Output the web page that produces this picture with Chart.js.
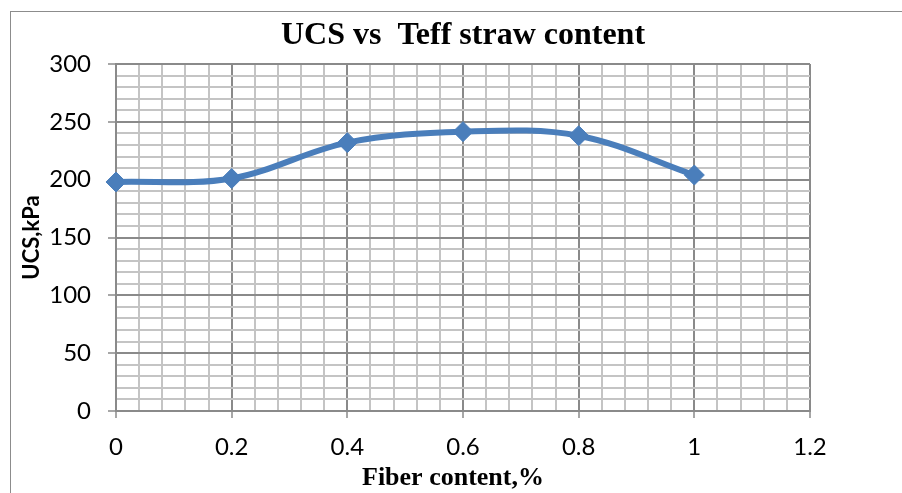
<!DOCTYPE html>
<html><head><meta charset="utf-8">
<script src="https://cdn.jsdelivr.net/npm/chart.js@4.4.1/dist/chart.umd.min.js"></script>
<style>
html,body{margin:0;padding:0;background:#fff;overflow:hidden;}
#wrap{position:relative;width:902px;height:493px;overflow:hidden;}
#frame{position:absolute;left:10px;top:11px;width:900px;height:490px;border:1px solid #8c8c8c;box-sizing:border-box;}
canvas{position:absolute;left:0;top:0;}
</style></head><body>
<div id="wrap"><div id="frame"></div><canvas id="c" width="902" height="493"></canvas></div>
<script>
const chartTitle = 'UCS vs  Teff straw content';
const xAxisTitle = 'Fiber content,%';
const yAxisTitle = 'UCS,kPa';
const fiberContent = [0, 0.2, 0.4, 0.6, 0.8, 1.0];
const ucsValues = [198, 201, 232, 241.5, 238, 204];
const xTickLabels = [0, 0.2, 0.4, 0.6, 0.8, 1, 1.2];
const yTickLabels = [0, 50, 100, 150, 200, 250, 300];
const minorDivisions = 5;

function buildTicks(majors) {
  const out = [];
  for (let i = 0; i < majors.length; i++) {
    out.push({ value: majors[i], isMajor: true });
    if (i < majors.length - 1) {
      const step = (majors[i + 1] - majors[i]) / minorDivisions;
      for (let k = 1; k < minorDivisions; k++) out.push({ value: majors[i] + step * k, isMajor: false });
    }
  }
  return out;
}

const majorColor = '#8a8a8a';
const minorColor = '#c4c4c4';
const gridColor = ctx => (ctx.tick && ctx.tick.isMajor) ? majorColor : minorColor;
const tickColor = ctx => (ctx.tick && ctx.tick.isMajor) ? majorColor : 'rgba(0,0,0,0)';

// x-axis title drawn slightly left of plot centre, as in the original
const xTitlePlugin = {
  id: 'xTitle',
  afterDraw(chart) {
    const { ctx, chartArea } = chart;
    ctx.save();
    ctx.font = 'bold 26px "Liberation Serif"';
    ctx.fillStyle = '#000';
    ctx.textAlign = 'center';
    ctx.textBaseline = 'middle';
    ctx.fillText(xAxisTitle, (chartArea.left + chartArea.right) / 2 - 10, 478.5);
    ctx.restore();
  }
};

Chart.defaults.font.family = 'Lato';
Chart.defaults.color = '#000';

new Chart(document.getElementById('c'), {
  type: 'line',
  data: {
    datasets: [{
      data: fiberContent.map((x, i) => ({ x: x, y: ucsValues[i] })),
      borderColor: '#4a7ebb',
      backgroundColor: '#4a7ebb',
      borderWidth: 6,
      tension: 0.35,
      pointStyle: 'rectRot',
      pointRadius: 10,
      pointBorderWidth: 1,
      pointBorderColor: '#4a7ebb',
      pointBackgroundColor: '#4a7ebb',
      clip: false
    }]
  },
  plugins: [xTitlePlugin],
  options: {
    responsive: false,
    animation: false,
    devicePixelRatio: 1,
    layout: { padding: { left: 0, right: 92, top: 0, bottom: 0 } },
    plugins: {
      legend: { display: false },
      tooltip: { enabled: false },
      title: {
        display: true,
        text: chartTitle,
        fullSize: false,
        color: '#000',
        font: { family: 'Liberation Serif', weight: 'bold', size: 32 },
        padding: { top: 16.8, bottom: 8.8 }
      }
    },
    scales: {
      x: {
        type: 'linear',
        min: xTickLabels[0],
        max: xTickLabels[xTickLabels.length - 1],
        afterBuildTicks: s => { s.ticks = buildTicks(xTickLabels); },
        afterFit: s => { s.height = 82; },
        grid: { color: gridColor, tickColor: tickColor, lineWidth: 2, tickLength: 7, tickWidth: 1.5 },
        border: { color: majorColor, width: 2 },
        ticks: {
          autoSkip: false,
          maxRotation: 0,
          padding: 15,
          font: { size: 24 },
          callback: (v, i, ticks) => ticks[i].isMajor ? String(Number(v.toFixed(2))) : ''
        },
        title: { display: false }
      },
      y: {
        type: 'linear',
        min: yTickLabels[0],
        max: yTickLabels[yTickLabels.length - 1],
        afterBuildTicks: s => { s.ticks = buildTicks(yTickLabels); },
        afterFit: s => { s.width = 116; },
        grid: { color: gridColor, tickColor: tickColor, lineWidth: 2, tickLength: 8, tickWidth: 1.5 },
        border: { color: majorColor, width: 2 },
        ticks: {
          autoSkip: false,
          padding: 17,
          font: { size: 24 },
          callback: (v, i, ticks) => ticks[i].isMajor ? String(v) : ''
        },
        title: {
          display: true, text: yAxisTitle, color: '#000',
          font: { family: 'Lato', weight: 'bold', size: 22 },
          padding: { top: 19, bottom: 0 }
        }
      }
    }
  }
});
</script>
</body></html>
